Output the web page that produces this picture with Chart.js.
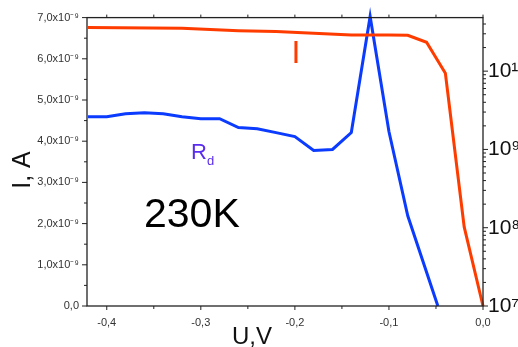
<!DOCTYPE html>
<html>
<head>
<meta charset="utf-8">
<script src="https://cdn.jsdelivr.net/npm/chart.js@4.4.1/dist/chart.umd.min.js"></script>
<style>
  html, body { margin: 0; padding: 0; background: #fff; }
  #wrap { width: 518px; height: 347px; }
</style>
</head>
<body>
<div id="wrap"><canvas id="ivChart" width="518" height="347"></canvas></div>
<script>
// current I (A) vs voltage U (V), left axis
const currentVoltage = [-0.42, -0.32, -0.26, -0.22, -0.14, -0.10, -0.08, -0.06, -0.04, -0.02, 0.0];
const currentValues = [6.76e-9, 6.74e-9, 6.68e-9, 6.66e-9, 6.58e-9, 6.58e-9, 6.57e-9, 6.40e-9, 5.65e-9, 1.92e-9, 0.0];

// differential resistance Rd (Ohm), right log axis
const rdVoltage = [-0.42, -0.40, -0.38, -0.36, -0.34, -0.32, -0.30, -0.28, -0.26, -0.24, -0.22, -0.20,
                   -0.18, -0.16, -0.14, -0.12, -0.10, -0.08, -0.048];
const rdValues = [2.62e9, 2.62e9, 2.86e9, 2.94e9, 2.86e9, 2.62e9, 2.47e9, 2.47e9, 1.90e9, 1.84e9, 1.64e9, 1.46e9,
                  9.7e8, 1.0e9, 1.64e9, 5.0e10, 1.69e9, 1.42e8, 1.0e7];

const xTicks = [-0.4, -0.3, -0.2, -0.1, 0.0];
const leftTicks = [0, 1e-9, 2e-9, 3e-9, 4e-9, 5e-9, 6e-9, 7e-9];
const rightTicks = [1e7, 1e8, 1e9, 1e10];

const supDigits = { '0': '⁰', '1': '¹', '2': '²', '3': '³', '4': '⁴', '5': '⁵', '6': '⁶', '7': '⁷', '8': '⁸', '9': '⁹' };
const sup = (n) => String(n).split('').map(c => supDigits[c]).join('');
const comma = (s) => s.replace('.', ',');
const FONT = 'Arial, "Liberation Sans", sans-serif';

const setTicks = (list) => (scale) => { scale.ticks = list.map(v => ({ value: v })); };

const frameAndLabels = {
    id: 'frameAndLabels',
    afterDraw(chart) {
        const ctx = chart.ctx;
        const a = chart.chartArea;
        const sx = chart.scales.x, sl = chart.scales.y, sr = chart.scales.yRd;
        ctx.save();
        ctx.strokeStyle = '#222';
        ctx.lineWidth = 1.3;
        ctx.strokeRect(a.left, a.top, a.right - a.left, a.bottom - a.top);

        ctx.lineWidth = 1;
        ctx.beginPath();
        // bottom and top ticks
        for (let i = 0; i < xTicks.length; i++) {
            const v = xTicks[i];
            const px = sx.getPixelForValue(v);
            ctx.moveTo(px, a.bottom); ctx.lineTo(px, a.bottom + 4);
            const half = v - 0.05;
            if (half >= sx.min) {
                const ph = sx.getPixelForValue(half);
                ctx.moveTo(ph, a.bottom); ctx.lineTo(ph, a.bottom + 3);
            }
        }
        for (let v = 0; v >= sx.min - 1e-9; v -= 0.05) {
            const px = sx.getPixelForValue(v);
            ctx.moveTo(px, a.top); ctx.lineTo(px, a.top - 3);
        }
        // left ticks
        for (let i = 0; i < leftTicks.length; i++) {
            const py = sl.getPixelForValue(leftTicks[i]);
            ctx.moveTo(a.left, py); ctx.lineTo(a.left - 5, py);
            if (i < leftTicks.length - 1) {
                const ph = sl.getPixelForValue((leftTicks[i] + leftTicks[i + 1]) / 2);
                ctx.moveTo(a.left, ph); ctx.lineTo(a.left - 3, ph);
            }
        }
        // right log ticks
        for (let i = 0; i < rightTicks.length; i++) {
            const d = rightTicks[i];
            const py = sr.getPixelForValue(d);
            ctx.moveTo(a.right, py); ctx.lineTo(a.right + 5, py);
            for (let k = 2; k <= 9; k++) {
                const v = d * k;
                if (v > sr.max) break;
                const pk = sr.getPixelForValue(v);
                ctx.moveTo(a.right, pk); ctx.lineTo(a.right + 3, pk);
            }
        }
        ctx.stroke();

        // annotations
        ctx.textBaseline = 'alphabetic';
        ctx.fillStyle = '#ff3c00';
        ctx.font = '32px ' + FONT;
        ctx.textAlign = 'center';
        ctx.fillText('I', 296, 63);

        ctx.fillStyle = '#5a2cf0';
        ctx.textAlign = 'left';
        ctx.font = '22px ' + FONT;
        ctx.fillText('R', 191, 159);
        ctx.font = '13px ' + FONT;
        ctx.fillText('d', 207, 165);

        ctx.fillStyle = '#000';
        ctx.font = '41px ' + FONT;
        ctx.fillText('230K', 144, 227);

        ctx.font = '24px ' + FONT;
        ctx.textAlign = 'center';
        ctx.fillStyle = '#111';
        ctx.fillText('U,V', 252, 344);

        ctx.translate(30, 170);
        ctx.rotate(-Math.PI / 2);
        ctx.font = '25px ' + FONT;
        ctx.fillText('I, A', 0, 0);
        ctx.restore();
    }
};

const ivCtx = document.getElementById('ivChart').getContext('2d');
new Chart(ivCtx, {
    type: 'line',
    data: {
        datasets: [{
            label: 'I',
            data: currentVoltage.map((v, i) => ({ x: v, y: currentValues[i] })),
            yAxisID: 'y',
            borderColor: '#ff3c00',
            borderWidth: 3,
            pointRadius: 0,
            tension: 0,
            clip: false
        }, {
            label: 'Rd',
            data: rdVoltage.map((v, i) => ({ x: v, y: rdValues[i] })),
            yAxisID: 'yRd',
            borderColor: '#0b3bff',
            borderWidth: 3,
            pointRadius: 0,
            tension: 0,
            clip: false
        }]
    },
    options: {
        responsive: false,
        animation: false,
        layout: { padding: { top: 15, left: 0, right: 0, bottom: 0 } },
        scales: {
            x: {
                type: 'linear',
                min: -0.421,
                max: 0,
                afterBuildTicks: setTicks(xTicks),
                afterFit: (s) => { s.height = 41; },
                grid: { display: false, drawTicks: false },
                border: { display: false },
                ticks: {
                    autoSkip: false,
                    maxRotation: 0,
                    padding: 10,
                    color: '#333',
                    font: { family: FONT, size: 11 },
                    callback: (v) => comma(Number(v).toFixed(1)).replace('-0,0', '0,0')
                }
            },
            y: {
                position: 'left',
                min: 0,
                max: 7e-9,
                afterBuildTicks: setTicks(leftTicks),
                afterFit: (s) => { s.width = 87; },
                grid: { display: false, drawTicks: false },
                border: { display: false },
                ticks: {
                    padding: 8,
                    color: '#333',
                    font: { family: FONT, size: 11 },
                    callback: (v) => v === 0 ? '0,0' : comma((v / 1e-9).toFixed(1)) + 'x10⁻⁹'
                }
            },
            yRd: {
                type: 'logarithmic',
                position: 'right',
                min: 1e7,
                max: 4.83e10,
                afterBuildTicks: setTicks(rightTicks),
                afterFit: (s) => { s.width = 35; },
                grid: { display: false, drawTicks: false },
                border: { display: false },
                ticks: {
                    padding: 5,
                    color: '#111',
                    font: { family: FONT, size: 21 },
                    callback: (v) => '10' + sup(Math.round(Math.log10(v)))
                }
            }
        },
        plugins: {
            legend: { display: false },
            tooltip: { enabled: false },
            title: { display: false }
        }
    },
    plugins: [frameAndLabels]
});
</script>
</body>
</html>
